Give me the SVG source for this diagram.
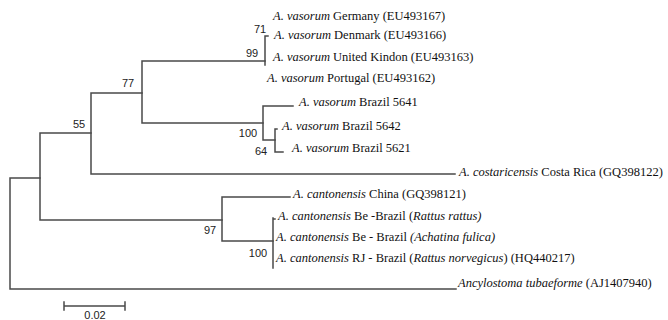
<svg xmlns="http://www.w3.org/2000/svg" width="668" height="320" viewBox="0 0 668 320">
<style>
.br{stroke:#4a4a4a;stroke-width:1.5;fill:none;stroke-linecap:square}
.lf{font-family:"Liberation Serif","Times New Roman",serif;font-size:12.5px;fill:#111}
.it{font-style:italic}
.bs{font-family:"Liberation Sans",Arial,sans-serif;font-size:11px;fill:#222;text-anchor:middle}
</style>
<rect width="668" height="320" fill="#fff"/>
<g id="connectors" class="br">
<path d="M10,178V289M10,178H40M10,289H456"/>
<path d="M40,133V220M40,133H91M40,220H222"/>
<path d="M91,93V174M91,93H142M91,174H455"/>
<path d="M142,61V123M142,61H265M142,123H263"/>
<path d="M265,36V65M265,36H268"/>
<path d="M263,106V140M263,106H293M263,140H275"/>
<path d="M275,129V152M275,129H277M275,152H283"/>
<path d="M222,197V241M222,197H290M222,241H273"/>
<path d="M273,218V268M273,219H275"/>
</g>
<g id="bootstrap">
<g id="b71"><text class="bs" x="260" y="33">71</text></g>
<g id="b99"><text class="bs" x="252" y="57">99</text></g>
<g id="b77"><text class="bs" x="128" y="87">77</text></g>
<g id="b55"><text class="bs" x="79" y="128">55</text></g>
<g id="b100a"><text class="bs" x="248" y="137">100</text></g>
<g id="b64"><text class="bs" x="261" y="155">64</text></g>
<g id="b97"><text class="bs" x="210" y="234">97</text></g>
<g id="b100b"><text class="bs" x="258" y="257">100</text></g>
</g>
<g id="leaf-germany"><text class="lf" x="273" y="20"><tspan class="it">A. vasorum</tspan> Germany (EU493167)</text></g>
<g id="leaf-denmark"><text class="lf" x="274" y="39"><tspan class="it">A. vasorum</tspan> Denmark (EU493166)</text></g>
<g id="leaf-uk"><text class="lf" x="273" y="61"><tspan class="it">A. vasorum</tspan> United Kindon (EU493163)</text></g>
<g id="leaf-portugal"><text class="lf" x="267" y="82"><tspan class="it">A. vasorum</tspan> Portugal (EU493162)</text></g>
<g id="leaf-brazil5641"><text class="lf" x="299" y="106"><tspan class="it">A. vasorum</tspan> Brazil 5641</text></g>
<g id="leaf-brazil5642"><text class="lf" x="282" y="130"><tspan class="it">A. vasorum</tspan> Brazil 5642</text></g>
<g id="leaf-brazil5621"><text class="lf" x="292" y="152"><tspan class="it">A. vasorum</tspan> Brazil 5621</text></g>
<g id="leaf-costarica"><text class="lf" x="459" y="176"><tspan class="it">A. costaricensis</tspan> Costa Rica (GQ398122)</text></g>
<g id="leaf-china"><text class="lf" x="293" y="198"><tspan class="it">A. cantonensis</tspan> China (GQ398121)</text></g>
<g id="leaf-rattus"><text class="lf" x="278" y="220"><tspan class="it">A. cantonensis</tspan> Be -Brazil (<tspan class="it">Rattus rattus)</tspan></text></g>
<g id="leaf-achatina"><text class="lf" x="276" y="241"><tspan class="it">A. cantonensis</tspan> Be - Brazil <tspan class="it">(Achatina fulica)</tspan></text></g>
<g id="leaf-rj"><text class="lf" x="276" y="262"><tspan class="it">A. cantonensis</tspan> RJ - Brazil (<tspan class="it">Rattus norvegicus</tspan>) (HQ440217)</text></g>
<g id="leaf-ancylostoma"><text class="lf" x="458" y="287"><tspan class="it">Ancylostoma tubaeforme</tspan> (AJ1407940)</text></g>
<g id="scalebar">
<path class="br" d="M64,306H125M64,302V310M125,302V310"/>
<text class="bs" x="95" y="319">0.02</text>
</g>
</svg>
